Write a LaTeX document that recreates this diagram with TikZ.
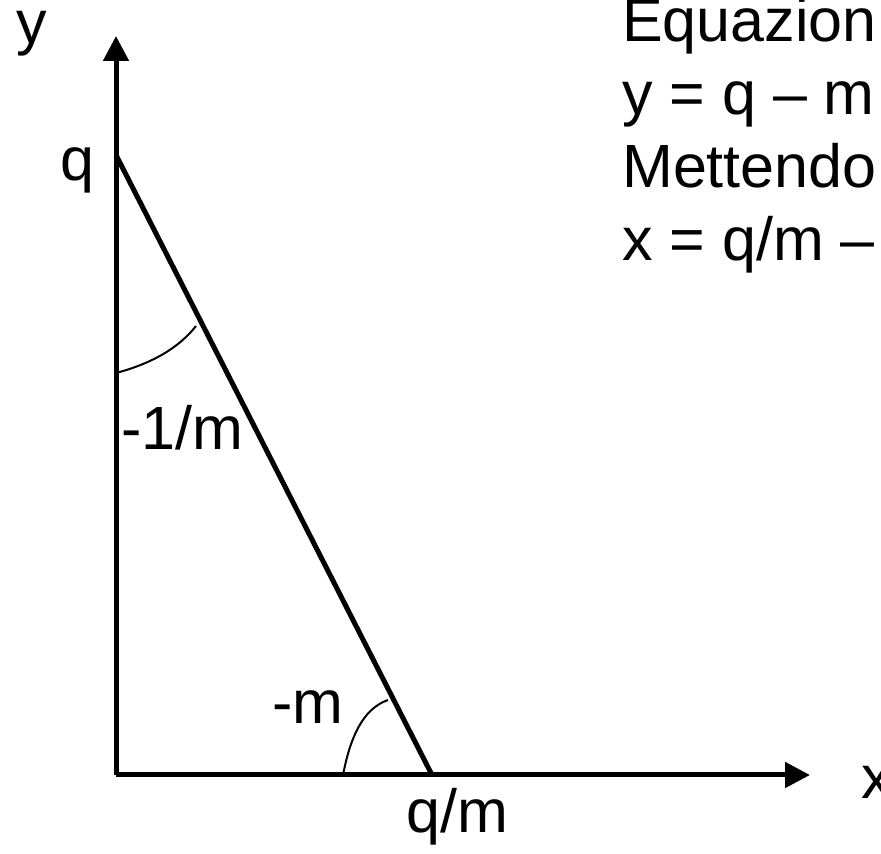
\documentclass[tikz,border=0pt]{standalone}
\usepackage{fontspec}
\setmainfont{Liberation Sans}
\usetikzlibrary{arrows.meta}
\tikzset{
  axis/.style={line width=5pt,-{Triangle[length=25pt,width=25pt]}},
  leg/.style={line width=5pt},
  anglearc/.style={line width=2pt},
  lbl/.style={inner sep=0pt,anchor=base west,font=\fontsize{61}{73}\selectfont}
}
\begin{document}
\begin{tikzpicture}[x=1pt,y=1pt]
\useasboundingbox (0,0) rectangle (881,854);
\clip (0,0) rectangle (881,854);
\coordinate (O) at (116,79);
\coordinate (ytip) at (116,818);
\coordinate (xtip) at (810,79);
\coordinate (Q) at (116,699);
\coordinate (P) at (432,79);
\coordinate (a1s) at (116,481);
\coordinate (a1e) at (196,528);
\coordinate (a2s) at (343,79);
\coordinate (a2e) at (388,154);
\draw[axis] (O) -- (ytip);
\draw[axis] (O) -- (xtip);
\draw[leg] (Q) -- (P);
\draw[anglearc] (a1s) .. controls (150,490) and (178,505) .. (a1e);
\draw[anglearc] (a2s) .. controls (350,115) and (362,145) .. (a2e);
\node[lbl] (ly) at (16,810) {y};
\node[lbl] (lq) at (60,673) {q};
\node[lbl] (l1m) at (121,404) {-1/m};
\node[lbl] (lm) at (272,130) {-m};
\node[lbl] (lqm) at (406,21) {q/m};
\node[lbl] (lx) at (861,55) {x};
\node[lbl] (t1) at (622,812) {Equazion};
\node[lbl] (t2) at (622,739) {y = q – m};
\node[lbl] (t3) at (622,666) {Mettendo};
\node[lbl] (t4) at (622,593) {x = q/m –};
\end{tikzpicture}
\end{document}
